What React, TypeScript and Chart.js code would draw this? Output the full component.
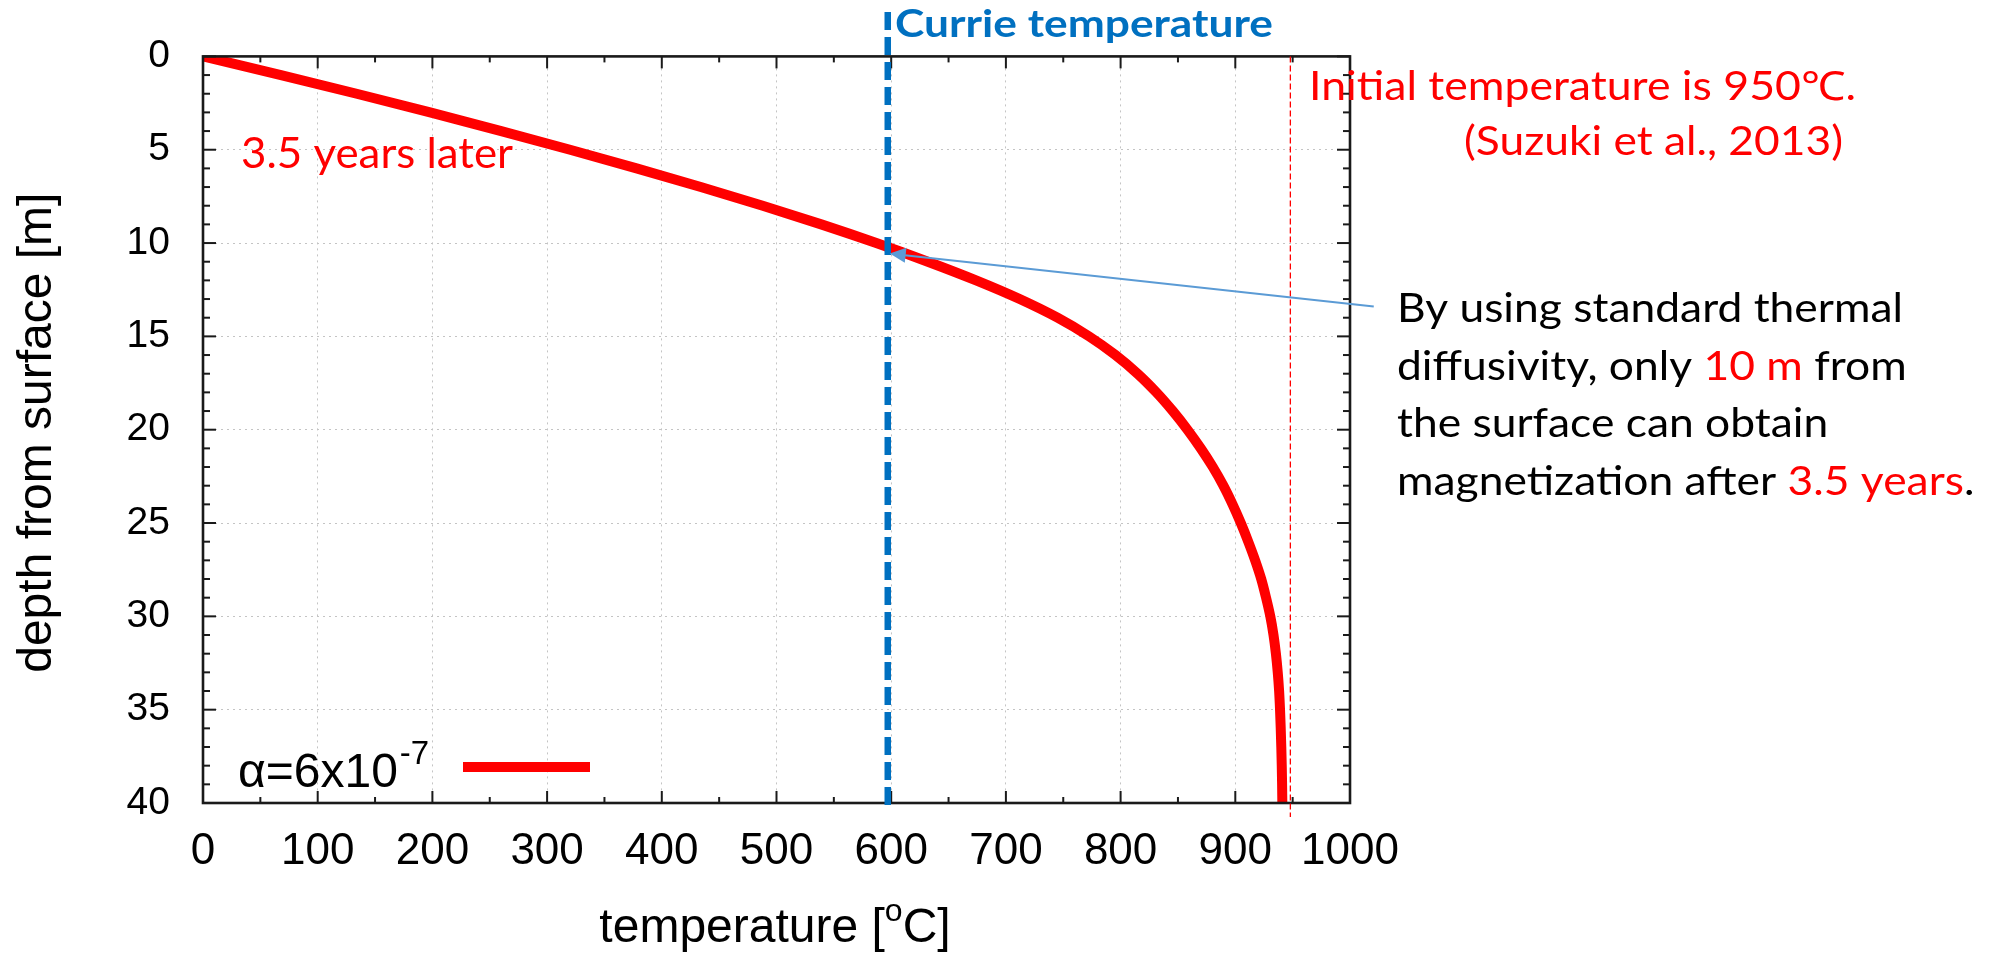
import React, { useEffect, useRef } from "react";
import { Chart, registerables } from "chart.js";

Chart.register(...registerables);

// ---- data ----
const depthM = [0, 1, 2, 3, 4, 5, 6, 7, 8, 9, 10, 11, 12, 13, 14, 15, 16, 17, 18, 19, 20, 21, 22, 23, 24, 25, 26, 27, 28, 29, 30, 31, 32, 33, 34, 35, 36, 37, 38, 39, 40];
const temperatureC = [0, 68, 134, 198, 260, 320, 378, 434, 488, 539, 587, 632, 674, 712, 745, 772.5, 795.5, 814.8, 831.2, 845.5, 858.3, 869.9, 880.4, 889.6, 897.6, 904.8, 911.3, 917.3, 922.6, 926.8, 930.5, 933.3, 935.4, 937, 938.2, 939, 939.6, 940.1, 940.5, 940.8, 941];
const xTickStep = 100;
const yTickStep = 5;
const seriesLabel = "α=6x10";
const seriesLabelExp = "-7";
const curieTemperature = 597;
const initialTemperatureLine = 948;
const arrowTip = { t: 598.7, d: 10.56 };
const arrowTail = { t: 1020.7, d: 13.4 };

const W = 1995;
const H = 955;
const TICK_FONT = "Liberation Sans";
const NOTE_FONT = "Lato";

type Run = { text: string; color: string };

function drawRuns(ctx: CanvasRenderingContext2D, runs: Run[], x: number, y: number, font: string, sx: number) {
  ctx.save();
  ctx.font = font;
  ctx.textAlign = "left";
  ctx.textBaseline = "alphabetic";
  ctx.translate(x, y);
  ctx.scale(sx, 1);
  let cx = 0;
  for (const r of runs) {
    ctx.fillStyle = r.color;
    ctx.fillText(r.text, cx, 0);
    cx += ctx.measureText(r.text).width;
  }
  ctx.restore();
}

function scaleFor(ctx: CanvasRenderingContext2D, text: string, font: string, target: number) {
  ctx.save();
  ctx.font = font;
  const w = ctx.measureText(text).width;
  ctx.restore();
  return w > 0 ? target / w : 1;
}

const overlayPlugin = {
  id: "overlay",
  afterDraw(chart: any) {
    const { ctx, chartArea: a } = chart;
    const xs = chart.scales.x;
    const ys = chart.scales.y;
    const line = (x1: number, y1: number, x2: number, y2: number) => {
      ctx.beginPath();
      ctx.moveTo(x1, y1);
      ctx.lineTo(x2, y2);
      ctx.stroke();
    };
    ctx.save();
    // frame
    ctx.setLineDash([]);
    ctx.strokeStyle = "#1a1a1a";
    ctx.lineWidth = 2.6;
    ctx.strokeRect(a.left, a.top, a.right - a.left, a.bottom - a.top);
    // inward ticks on all sides
    ctx.lineWidth = 2;
    for (let v = 0; v <= 1000; v += xTickStep / 2) {
      const px = xs.getPixelForValue(v);
      const len = v % xTickStep === 0 ? 12 : 6;
      line(px, a.bottom, px, a.bottom - len);
      line(px, a.top, px, a.top + len);
    }
    for (let v = 0; v <= 40; v += 1) {
      const py = ys.getPixelForValue(v);
      const len = v % yTickStep === 0 ? 13 : 7;
      line(a.left, py, a.left + len, py);
      line(a.right, py, a.right - len, py);
    }

    // initial temperature red dashed line
    const rx = xs.getPixelForValue(initialTemperatureLine);
    ctx.strokeStyle = "#ff0000";
    ctx.lineWidth = 1.3;
    ctx.setLineDash([6, 3]);
    line(rx, a.top, rx, a.bottom + 14);

    // curie temperature blue dashed line
    const bx = xs.getPixelForValue(curieTemperature);
    ctx.strokeStyle = "#0070C0";
    ctx.lineWidth = 6.5;
    ctx.setLineDash([18, 7]);
    line(bx, 12, bx, a.bottom + 9);
    ctx.setLineDash([]);

    // arrow
    const tx = xs.getPixelForValue(arrowTip.t);
    const ty = ys.getPixelForValue(arrowTip.d);
    const sx0 = xs.getPixelForValue(arrowTail.t);
    const sy0 = ys.getPixelForValue(arrowTail.d);
    const ang = Math.atan2(ty - sy0, tx - sx0);
    const headLen = 16;
    const headHalf = 7.5;
    ctx.strokeStyle = "#5B9BD5";
    ctx.fillStyle = "#5B9BD5";
    ctx.lineWidth = 2;
    line(sx0, sy0, tx - Math.cos(ang) * headLen * 0.8, ty - Math.sin(ang) * headLen * 0.8);
    ctx.beginPath();
    ctx.moveTo(tx, ty);
    ctx.lineTo(tx - Math.cos(ang) * headLen - Math.sin(ang) * headHalf, ty - Math.sin(ang) * headLen + Math.cos(ang) * headHalf);
    ctx.lineTo(tx - Math.cos(ang) * headLen + Math.sin(ang) * headHalf, ty - Math.sin(ang) * headLen - Math.cos(ang) * headHalf);
    ctx.closePath();
    ctx.fill();

    // legend
    ctx.font = `48px "${TICK_FONT}"`;
    ctx.fillStyle = "#000";
    ctx.textAlign = "left";
    ctx.textBaseline = "alphabetic";
    ctx.fillText(seriesLabel, 238, 787);
    const lw = ctx.measureText(seriesLabel).width;
    ctx.font = `33px "${TICK_FONT}"`;
    ctx.fillText(seriesLabelExp, 238 + lw + 2, 764);
    ctx.strokeStyle = "#ff0000";
    ctx.lineWidth = 10;
    line(463, 767, 590, 767);

    // axis titles
    ctx.fillStyle = "#000";
    const tf = `48px "${TICK_FONT}"`;
    const sf = `32px "${TICK_FONT}"`;
    ctx.font = tf;
    const p1 = "temperature [";
    const p3 = "C]";
    const w1 = ctx.measureText(p1).width;
    const w3 = ctx.measureText(p3).width;
    ctx.font = sf;
    const w2 = ctx.measureText("o").width;
    const start = 775 - (w1 + w2 + w3) / 2;
    ctx.font = tf;
    ctx.fillText(p1, start, 942);
    ctx.font = sf;
    ctx.fillText("o", start + w1, 921);
    ctx.font = tf;
    ctx.fillText(p3, start + w1 + w2, 942);

    ctx.save();
    ctx.translate(51, (a.top + a.bottom) / 2 + 3);
    ctx.rotate(-Math.PI / 2);
    ctx.font = `48px "${TICK_FONT}"`;
    ctx.textAlign = "center";
    ctx.fillText("depth from surface [m]", 0, 0);
    ctx.restore();

    // annotations
    const red = "#ff0000";
    const black = "#000000";
    const blue = "#0070C0";
    const cf = `bold 38px "${NOTE_FONT}"`;
    drawRuns(ctx, [{ text: "Currie temperature", color: blue }], 895, 37, cf, scaleFor(ctx, "Currie temperature", cf, 378));

    const yf = `42px "${NOTE_FONT}"`;
    drawRuns(ctx, [{ text: "3.5 years later", color: red }], 241, 168, yf, scaleFor(ctx, "3.5 years later", yf, 272));

    const nf = `40px "${NOTE_FONT}"`;
    drawRuns(ctx, [{ text: "Initial temperature is 950℃.", color: red }], 1309, 100, nf, scaleFor(ctx, "Initial temperature is 950℃.", nf, 547));
    drawRuns(ctx, [{ text: "(Suzuki et al., 2013)", color: red }], 1464, 155, nf, scaleFor(ctx, "(Suzuki et al., 2013)", nf, 379));

    const k = scaleFor(ctx, "By using standard thermal", nf, 506);
    drawRuns(ctx, [{ text: "By using standard thermal", color: black }], 1397, 322, nf, k);
    drawRuns(ctx, [
      { text: "diffusivity, only ", color: black },
      { text: "10 m", color: red },
      { text: " from", color: black },
    ], 1397, 380, nf, k);
    drawRuns(ctx, [{ text: "the surface can obtain", color: black }], 1397, 437, nf, k);
    drawRuns(ctx, [
      { text: "magnetization after ", color: black },
      { text: "3.5 years", color: red },
      { text: ".", color: black },
    ], 1397, 495, nf, k);

    ctx.restore();
  },
};

export default function App() {
  const ref = useRef<HTMLCanvasElement | null>(null);
  useEffect(() => {
    document.body.style.margin = "0";
    const canvas = ref.current;
    if (!canvas) return;
    const points = depthM.map((d, i) => ({ x: temperatureC[i], y: d }));
    const chart = new Chart(canvas, {
      type: "line",
      data: {
        datasets: [
          {
            label: seriesLabel + seriesLabelExp,
            data: points,
            borderColor: "#ff0000",
            borderWidth: 10,
            pointRadius: 0,
            cubicInterpolationMode: "monotone",
            fill: false,
          },
        ],
      },
      options: {
        indexAxis: "y",
        responsive: false,
        animation: false,
        devicePixelRatio: 1,
        layout: { padding: { left: 0, top: 54, right: 645, bottom: 0 } },
        plugins: { legend: { display: false }, tooltip: { enabled: false } },
        scales: {
          x: {
            type: "linear",
            position: "bottom",
            min: 0,
            max: 1000,
            ticks: { stepSize: xTickStep, color: "#000", padding: 22, font: { family: TICK_FONT, size: 44 }, callback: (v: any) => String(v) },
            grid: { color: "#c4c4c4", lineWidth: 1, drawTicks: false },
            border: { display: false, dash: [2, 4] },
            afterFit: (s: any) => { s.height = 152; },
          },
          y: {
            type: "linear",
            position: "left",
            reverse: true,
            min: 0,
            max: 40,
            ticks: { stepSize: yTickStep, color: "#000", padding: 33, font: { family: TICK_FONT, size: 39 }, callback: (v: any) => String(v) },
            grid: { color: "#c4c4c4", lineWidth: 1, drawTicks: false },
            border: { display: false, dash: [2, 4] },
            afterFit: (s: any) => { s.width = 203; },
          },
        },
      },
      plugins: [overlayPlugin],
    } as any);
    return () => chart.destroy();
  }, []);
  return (
    <div style={{ width: W, height: H, background: "#fff" }}>
      <canvas ref={ref} width={W} height={H} style={{ display: "block" }} />
    </div>
  );
}
